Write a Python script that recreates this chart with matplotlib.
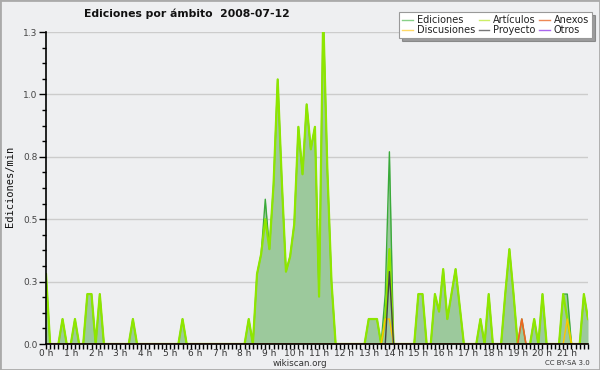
import matplotlib
matplotlib.use("Agg")
import matplotlib.pyplot as plt
from matplotlib.lines import Line2D
from matplotlib.patches import Rectangle
import numpy as np

# 10-minute bins from 00:00 to 21:50 (edits per minute)
ediciones = [
    0.28, 0, 0, 0, 0.1, 0,
    0, 0.1, 0, 0, 0.2, 0.2,
    0, 0.2, 0, 0, 0, 0,
    0, 0, 0, 0.1, 0, 0,
    0, 0, 0, 0, 0, 0,
    0, 0, 0, 0.1, 0, 0,
    0, 0, 0, 0, 0, 0,
    0, 0, 0, 0, 0, 0,
    0, 0.1, 0, 0.28, 0.36, 0.58,
    0.38, 0.64, 1.06, 0.65, 0.29, 0.35,
    0.48, 0.87, 0.68, 0.96, 0.78, 0.87,
    0.19, 1.32, 0.7, 0.25, 0, 0,
    0, 0, 0, 0, 0, 0,
    0.1, 0.1, 0.1, 0, 0.2, 0.77,
    0, 0, 0, 0, 0, 0,
    0.2, 0.2, 0, 0, 0.2, 0.13,
    0.3, 0.1, 0.2, 0.3, 0.15, 0,
    0, 0, 0, 0.1, 0, 0.2,
    0, 0, 0, 0.2, 0.38, 0.2,
    0, 0.1, 0, 0, 0.1, 0,
    0.2, 0, 0, 0, 0, 0.2,
    0.2, 0, 0, 0, 0.2, 0.1,
]
articulos = [
    0.28, 0, 0, 0, 0.1, 0,
    0, 0.1, 0, 0, 0.2, 0.2,
    0, 0.2, 0, 0, 0, 0,
    0, 0, 0, 0.1, 0, 0,
    0, 0, 0, 0, 0, 0,
    0, 0, 0, 0.1, 0, 0,
    0, 0, 0, 0, 0, 0,
    0, 0, 0, 0, 0, 0,
    0, 0.1, 0, 0.28, 0.36, 0.5,
    0.38, 0.64, 1.06, 0.65, 0.29, 0.35,
    0.48, 0.87, 0.68, 0.96, 0.78, 0.87,
    0.19, 1.32, 0.7, 0.25, 0, 0,
    0, 0, 0, 0, 0, 0,
    0.1, 0.1, 0.1, 0, 0.1, 0.38,
    0, 0, 0, 0, 0, 0,
    0.2, 0.2, 0, 0, 0.2, 0.13,
    0.3, 0.1, 0.2, 0.3, 0.15, 0,
    0, 0, 0, 0.1, 0, 0.2,
    0, 0, 0, 0.2, 0.38, 0.2,
    0, 0, 0, 0, 0.1, 0,
    0.2, 0, 0, 0, 0, 0.2,
    0.1, 0, 0, 0, 0.2, 0.1,
]
# sparse series: {bin index: value}
anexos = {115: 0.1}
discusiones = {82: 0.1, 83: 0.1, 126: 0.1}
proyecto = {83: 0.29}
otros = {}

hour_labels = [f"{h} h" for h in range(22)]
y_ticks = [0, 0.25, 0.5, 0.75, 1.0, 1.25]
y_labels = ["0.0", "0.3", "0.5", "0.8", "1.0", "1.3"]

n = len(ediciones)
x = np.arange(n) / 6.0  # hours


def dense(d):
    arr = np.zeros(n)
    for k, v in d.items():
        arr[k] = v
    return arr


bg = "#eeeff1"
fig = plt.figure(figsize=(6, 3.7), dpi=100, facecolor=bg)
ax = fig.add_axes([46 / 600, 1 - 344 / 370, (588 - 46) / 600, (344 - 32) / 370])
ax.set_facecolor(bg)

ax.fill_between(x, 0, ediciones, color="#9cc99c", lw=0, zorder=2)
ax.plot(x, ediciones, color="#3aaa3a", lw=1.0, zorder=3)
ax.plot(x, articulos, color="#8ee600", lw=1.6, zorder=4)
ax.plot(x, dense(discusiones), color="#ffc400", lw=1.0, zorder=5)
ax.plot(x, dense(proyecto), color="#444444", lw=1.0, zorder=6)
ax.plot(x, dense(anexos), color="#ee6622", lw=1.2, zorder=7)
ax.plot(x, dense(otros), color="#9933ee", lw=1.0, zorder=1)

ax.set_xlim(0, x[-1])
ax.set_ylim(0, 1.25)
ax.set_xticks(range(22))
ax.set_xticklabels(hour_labels, fontsize=6.5, color="#333333")
ax.set_xticks(np.arange(0, x[-1] + 1e-6, 1 / 6.0), minor=True)
ax.set_yticks(y_ticks)
ax.set_yticklabels(y_labels, fontsize=6.5, color="#444444")
ax.set_yticks(np.arange(0, 1.2501, 0.0625), minor=True)
ax.tick_params(axis="x", which="both", length=3.5, width=1, color="black", pad=0)
ax.tick_params(axis="y", which="major", length=5, width=1, color="black", pad=1)
ax.tick_params(axis="y", which="minor", length=3, width=1, color="black")
ax.grid(axis="y", which="major", color="#cccccc", lw=1, zorder=0)
ax.set_axisbelow(True)
for s in ["top", "right"]:
    ax.spines[s].set_visible(False)
for s in ["left", "bottom"]:
    ax.spines[s].set_color("black")
    ax.spines[s].set_linewidth(1.2)
    ax.spines[s].set_zorder(10)

fig.text(10 / 600, 1 - 186 / 370, "Ediciones/min", rotation=90, ha="center",
         va="center", fontsize=7.5, family="DejaVu Sans Mono", color="#111111")
fig.text(187 / 600, 1 - 14 / 370, "Ediciones por ámbito  2008-07-12", ha="center",
         va="center", fontsize=7.8, fontweight="bold", color="#111111")
fig.text(300 / 600, 1 - 363 / 370, "wikiscan.org", ha="center", va="center",
         fontsize=6.3, color="#333333")
fig.text(590 / 600, 1 - 363 / 370, "CC BY-SA 3.0", ha="right", va="center",
         fontsize=5, color="#333333")

handles = [
    Line2D([], [], color="#88d088", lw=1),
    Line2D([], [], color="#ffd966", lw=1),
    Line2D([], [], color="#ccee66", lw=1),
    Line2D([], [], color="#777777", lw=1),
    Line2D([], [], color="#ee8855", lw=1),
    Line2D([], [], color="#aa66ee", lw=1),
]
labels = ["Ediciones", "Discusiones", "Artículos", "Proyecto", "Anexos", "Otros"]
leg = fig.legend(handles, labels, ncol=3, loc="upper right",
                 bbox_to_anchor=(592 / 600, 1 - 12 / 370), fontsize=7,
                 frameon=True, fancybox=False, shadow=True, handlelength=1.1,
                 handletextpad=0.4, columnspacing=0.35, labelspacing=0.05,
                 borderpad=0.3, borderaxespad=0)
leg.get_frame().set_edgecolor("#999999")
leg.get_frame().set_linewidth(0.8)
for t in leg.get_texts():
    t.set_color("#222222")

fig.patches.append(Rectangle((0, 0), 1, 1, transform=fig.transFigure, fill=False,
                             edgecolor="#aaaaaa", lw=2))

fig.savefig("out.png", dpi=100, facecolor=bg)
